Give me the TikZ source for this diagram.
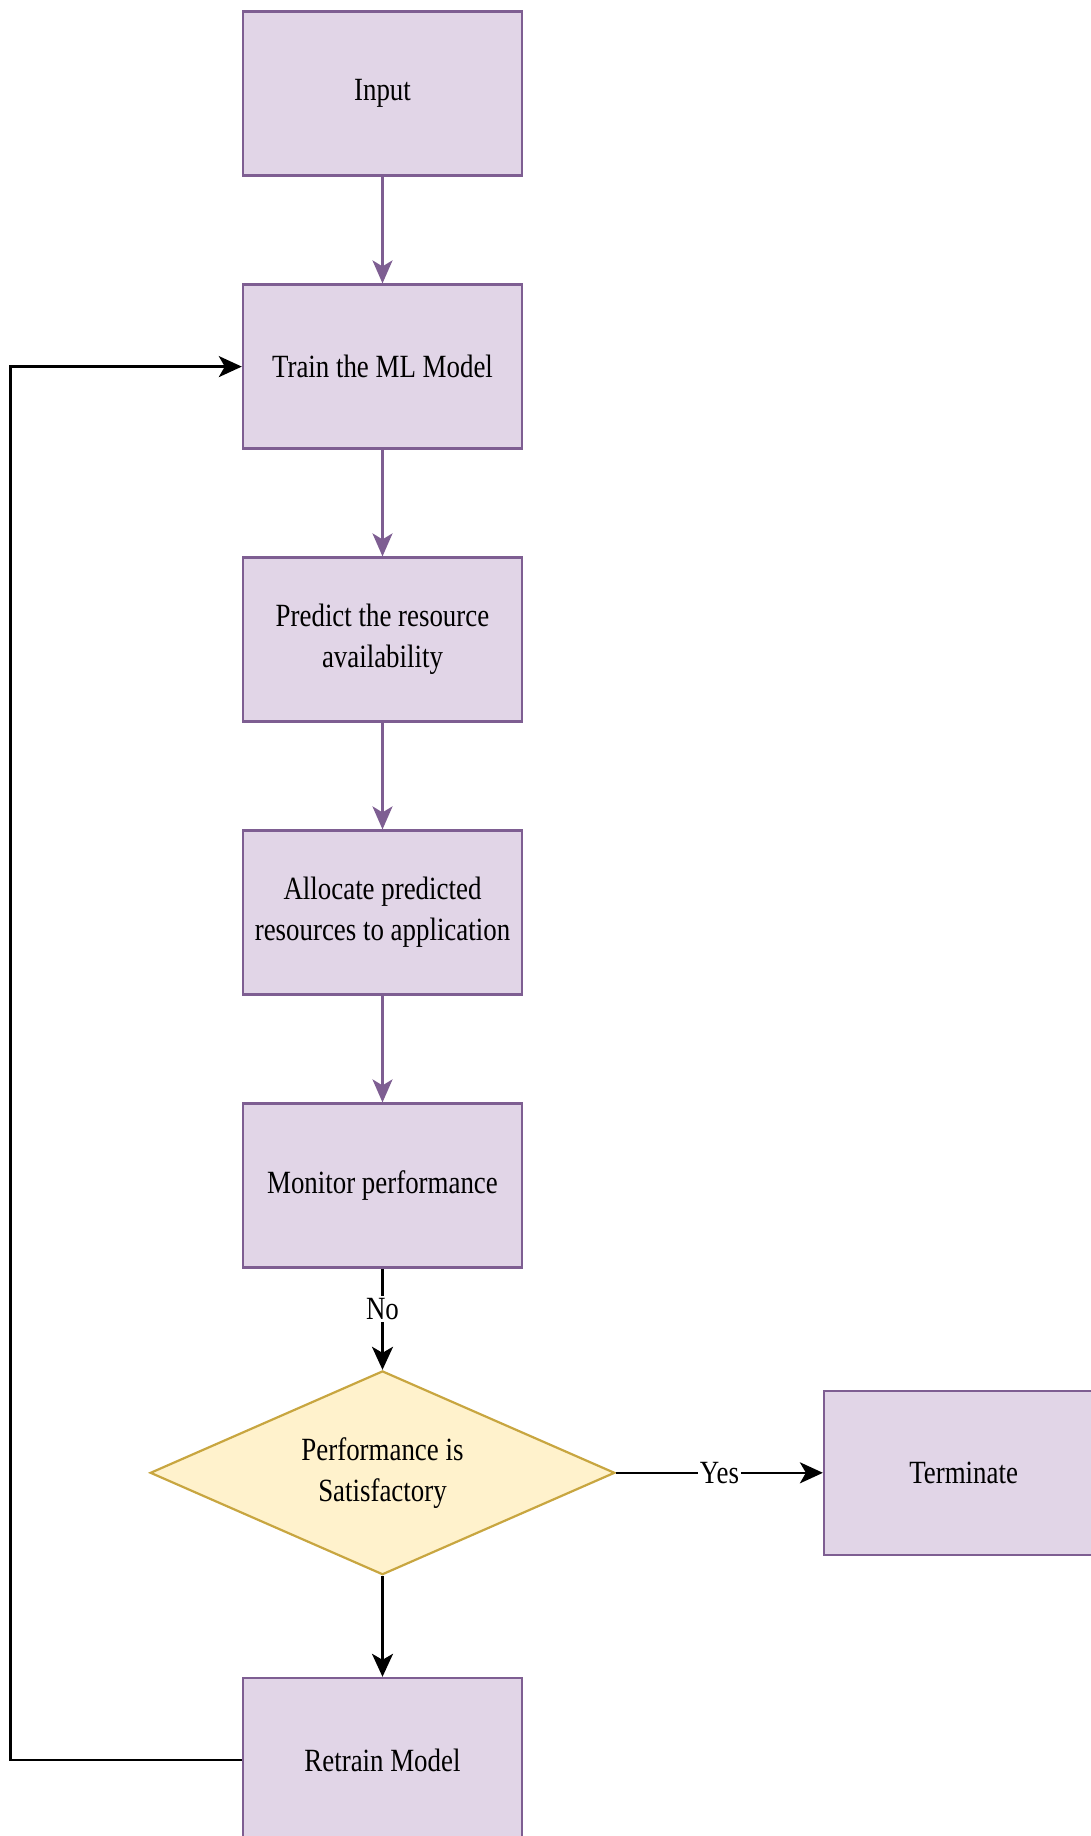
\documentclass[tikz,border=0pt]{standalone}
\usepackage{fontspec}
\setmainfont{Liberation Serif}[FakeStretch=0.83]
\usepackage{tikz}
\usetikzlibrary{positioning, arrows.meta, shapes.geometric}
\definecolor{boxline}{HTML}{7E5E92}
\definecolor{boxbg}{HTML}{E1D5E7}
\definecolor{decline}{HTML}{C8A640}
\definecolor{decbg}{HTML}{FFF2CC}
\tikzset{
  flow box/.style={
    rectangle,
    draw=boxline,
    line width=1.2pt,
    fill=boxbg,
    minimum width=139.5pt,
    minimum height=82pt,
    align=center,
    font=\fontsize{16.2}{20.5}\selectfont,
    inner sep=2pt
  },
  decision/.style={
    diamond,
    draw=decline,
    line width=1.1pt,
    fill=decbg,
    aspect=2.28,
    minimum width=232.3pt,
    minimum height=101.9pt,
    align=center,
    font=\fontsize{16.2}{20.5}\selectfont,
    inner sep=0pt
  },
  flow arrow/.style={
    -{Stealth[length=11.5pt, width=10pt, inset=3pt]},
    line width=1.2pt,
    color=boxline
  },
  back arrow/.style={
    -{Stealth[length=11.5pt, width=10.5pt, inset=3pt]},
    line width=1.3pt,
    color=black
  },
  edge label/.style={
    fill=white,
    inner sep=1pt,
    font=\fontsize{16.2}{18}\selectfont
  }
}

\begin{document}
\begin{tikzpicture}[x=0.5pt, y=-0.5pt, node distance=53.3pt]
  \useasboundingbox (0,0) rectangle (1091,1836);
  \clip (0,0) rectangle (1091,1836);

  \node[flow box] (input) at (382.5,93.6) {Input};
  \node[flow box, below=of input] (train) {Train the ML Model};
  \node[flow box, below=of train] (predict) {Predict the resource\\availability};
  \node[flow box, below=of predict] (allocate) {Allocate predicted\\resources to application};
  \node[flow box, below=of allocate] (monitor) {Monitor performance};
  \node[decision, below=50.5pt of monitor] (check) {Performance is\\Satisfactory};
  \node[flow box, right=103.5pt of check] (stop) {Terminate};
  \node[flow box, below=50.5pt of check] (retrain) {Retrain Model};

  \draw[flow arrow] (input) -- (train);
  \draw[flow arrow] (train) -- (predict);
  \draw[flow arrow] (predict) -- (allocate);
  \draw[flow arrow] (allocate) -- (monitor);
  \draw[back arrow] (monitor) -- node[edge label, pos=0.4]{No} (check);
  \draw[back arrow] (check) -- node[edge label]{Yes} (stop);
  \draw[back arrow] (check) -- (retrain);
  \draw[back arrow] (retrain.west) -- ++(-115.7pt,0) |- (train.west);
\end{tikzpicture}
\end{document}
